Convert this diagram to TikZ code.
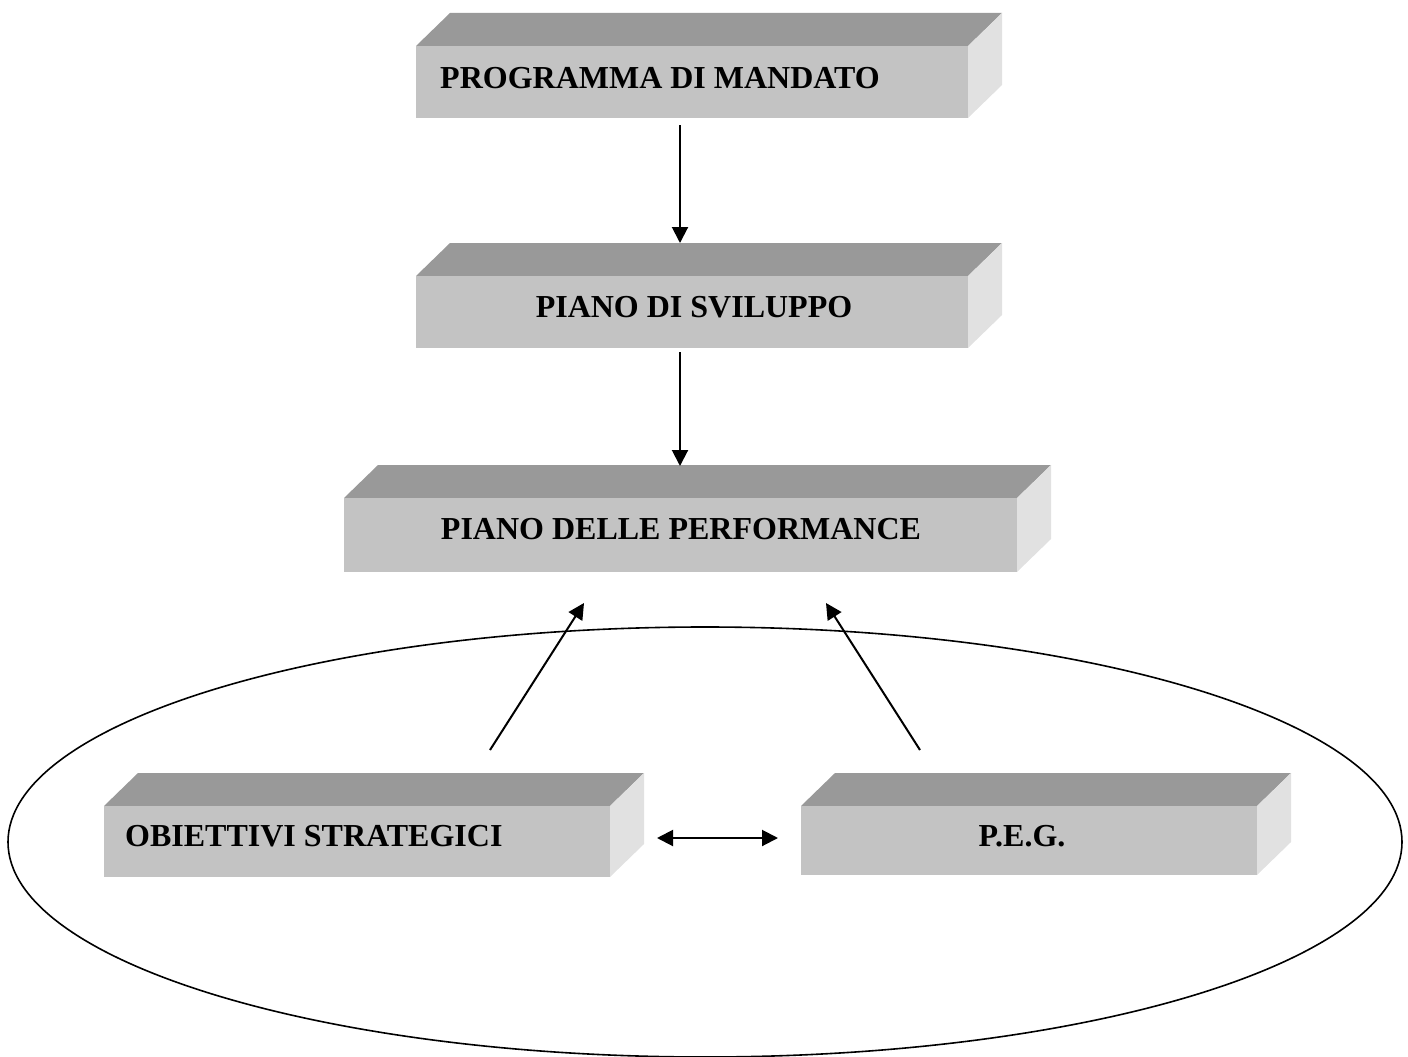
\documentclass[tikz,border=0pt]{standalone}
\usepackage{fontspec}
\setmainfont{Liberation Serif}
\usetikzlibrary{arrows.meta}
\definecolor{slabtop}{HTML}{999999}
\definecolor{slabfront}{HTML}{C3C3C3}
\definecolor{slabside}{HTML}{E1E1E1}
\tikzset{
  label text/.style={inner sep=0pt, font=\bfseries\fontsize{32}{38}\selectfont},
  link/.style={line width=2pt, -{Triangle[length=16pt,width=16pt]}},
  twoway/.style={line width=2pt, {Triangle[length=16pt,width=16pt]}-{Triangle[length=16pt,width=16pt]}},
  ring/.style={line width=1.6pt},
}
% slab: x-left, x-right, y-top, y-bottom of the front face; depth 34 right, 33 up
\newcommand\slab[4]{%
  \fill[slabtop] (#1,#3) -- (#1+34,#3-33) -- (#2+34,#3-33) -- (#2,#3) -- cycle;
  \fill[slabside] (#2,#3) -- (#2+34,#3-33) -- (#2+34,#4-33) -- (#2,#4) -- cycle;
  \fill[slabfront] (#1,#3) rectangle (#2,#4);
}
\begin{document}
\begin{tikzpicture}[x=1pt,y=-1pt]
  \useasboundingbox (0,0) rectangle (1408,1057);

  % surrounding ellipse
  \draw[ring] (705,842) ellipse [x radius=697, y radius=215];

  % slabs
  \slab{416}{968}{46}{118}
  \slab{416}{968}{276}{348}
  \slab{344}{1017}{498}{572}
  \slab{104}{610}{806}{877}
  \slab{801}{1257}{806}{875}

  % labels
  \node[label text, anchor=base west] (pm) at (440,88.5) {PROGRAMMA DI MANDATO};
  \node[label text, anchor=base] (ps) at (694,317) {PIANO DI SVILUPPO};
  \node[label text, anchor=base] (pp) at (681,539) {PIANO DELLE PERFORMANCE};
  \node[label text, anchor=base west] (os) at (125,846) {OBIETTIVI STRATEGICI};
  \node[label text, anchor=base] (peg) at (1022,846) {P.E.G.};

  % connector ends
  \coordinate (a1) at (680,125);
  \coordinate (b1) at (680,243);
  \coordinate (a2) at (680,352);
  \coordinate (b2) at (680,466);
  \coordinate (a3) at (490,750);
  \coordinate (b3) at (584,603);
  \coordinate (a4) at (920,750);
  \coordinate (b4) at (826,603);
  \coordinate (a5) at (657,838);
  \coordinate (b5) at (778,838);

  % connectors
  \draw[link] (a1) -- (b1);
  \draw[link] (a2) -- (b2);
  \draw[link] (a3) -- (b3);
  \draw[link] (a4) -- (b4);
  \draw[twoway] (a5) -- (b5);
\end{tikzpicture}
\end{document}
